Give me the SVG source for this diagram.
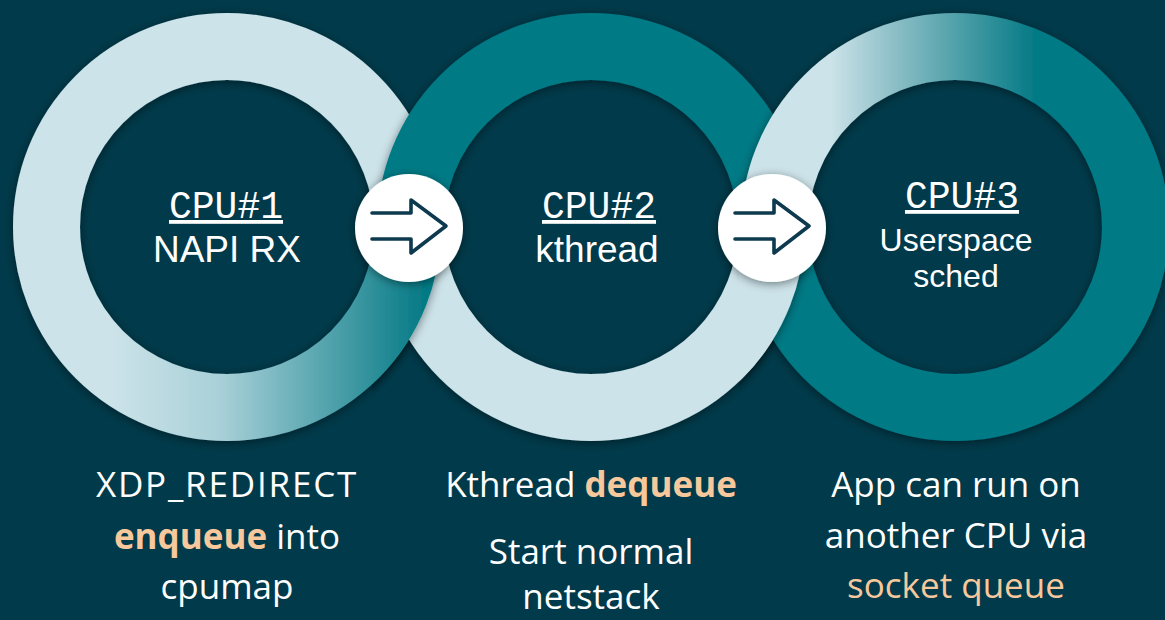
<svg xmlns="http://www.w3.org/2000/svg" width="1165" height="620" viewBox="0 0 1165 620">
  <style>
    .ring { fill: none; stroke-width: 67; }
    .light { stroke: #CCE3E9; }
    .teal { stroke: #047A85; }
    .cpu { font-family: "Liberation Mono", "DejaVu Sans Mono", monospace; font-size: 38px; fill: #FFFFFF; text-anchor: middle; text-decoration: underline; }
    .role { font-family: "Liberation Sans", Arial, sans-serif; font-size: 37px; fill: #FFFFFF; text-anchor: middle; }
    .desc { font-family: "Open Sans", "Noto Sans", sans-serif; font-size: 35px; fill: #FFFFFF; text-anchor: middle; }
    .hl { fill: #F6C89C; }
    .b { font-weight: 700; }
    .btn { fill: #FFFFFF; }
    .icon { fill: none; stroke: #0D3A4E; stroke-width: 3.6; stroke-linecap: round; stroke-linejoin: round; }
  </style>
  <defs>
    <filter id="sh" x="-20%" y="-20%" width="140%" height="140%">
      <feDropShadow dx="0" dy="2" stdDeviation="5" flood-color="#000000" flood-opacity="0.45"/>
    </filter>
    <linearGradient id="g1" gradientUnits="userSpaceOnUse" x1="110" y1="0" x2="425" y2="0">
      <stop offset="0" stop-color="#CCE3E9"/>
      <stop offset="0.35" stop-color="#A9D0D8"/>
      <stop offset="1" stop-color="#047A85"/>
    </linearGradient>
    <linearGradient id="g3" gradientUnits="userSpaceOnUse" x1="830" y1="0" x2="1035" y2="0">
      <stop offset="0" stop-color="#CCE3E9"/>
      <stop offset="0.3" stop-color="#8FC0C8"/>
      <stop offset="1" stop-color="#047A85"/>
    </linearGradient>
    <clipPath id="c1"><rect x="372" y="227" width="100" height="235"/></clipPath>
    <clipPath id="c2"><rect x="739" y="227" width="110" height="235"/></clipPath>
  </defs>

  <rect x="0" y="0" width="1165" height="620" fill="#013A4A"/>

  <g id="cpu1">
    <g filter="url(#sh)">
      <path class="ring light" d="M46.5,227 A180.5,180.5 0 0 1 407.5,227"/>
      <path class="ring" stroke="url(#g1)" d="M46.5,227 A180.5,180.5 0 0 0 407.5,227"/>
    </g>
    <text class="cpu" x="226" y="218">CPU#1</text>
    <text class="role" x="227" y="262">NAPI RX</text>
    <text class="desc" x="227" y="497" style="letter-spacing:1.8px">XDP_REDIRECT</text>
    <text class="desc" x="227" y="549"><tspan class="hl b">enqueue</tspan> into</text>
    <text class="desc" x="227" y="599">cpumap</text>
  </g>

  <g id="cpu2">
    <g filter="url(#sh)">
      <path class="ring teal" d="M410.5,227 A180.5,180.5 0 0 1 771.5,227"/>
      <path class="ring light" d="M410.5,227 A180.5,180.5 0 0 0 771.5,227"/>
    </g>
    <text class="cpu" x="599" y="218">CPU#2</text>
    <text class="role" x="597" y="262">kthread</text>
    <text class="desc" x="591" y="497">Kthread <tspan class="hl b">dequeue</tspan></text>
    <text class="desc" x="591" y="564">Start normal</text>
    <text class="desc" x="591" y="609">netstack</text>
  </g>

  <g id="cpu3">
    <g filter="url(#sh)">
      <path class="ring" stroke="url(#g3)" d="M774.5,227 A180.5,180.5 0 0 1 1135.5,227"/>
      <path class="ring teal" d="M774.5,227 A180.5,180.5 0 0 0 1135.5,227"/>
    </g>
    <text class="cpu" x="962" y="208">CPU#3</text>
    <text class="role" x="956" y="251" style="font-size:32px">Userspace</text>
    <text class="role" x="956" y="287" style="font-size:32px">sched</text>
    <text class="desc" x="956" y="497">App can run on</text>
    <text class="desc" x="956" y="548">another CPU via</text>
    <text class="desc hl" x="956" y="598">socket queue</text>
  </g>

  <g id="interlock">
    <g clip-path="url(#c1)">
      <g filter="url(#sh)">
        <path class="ring" stroke="url(#g1)" d="M46.5,227 A180.5,180.5 0 0 0 407.5,227"/>
      </g>
    </g>
    <g clip-path="url(#c2)">
      <g filter="url(#sh)">
        <path class="ring light" d="M410.5,227 A180.5,180.5 0 0 0 771.5,227"/>
      </g>
    </g>
  </g>

  <g id="connectors">
    <g id="arrow1">
      <circle class="btn" cx="409" cy="228" r="54" filter="url(#sh)"/>
      <path class="icon" d="M372,213 H411 V200 L446,226 L411,253 V239 H372"/>
    </g>
    <g id="arrow2">
      <circle class="btn" cx="772" cy="228" r="54" filter="url(#sh)"/>
      <path class="icon" d="M735,213 H774 V200 L809,226 L774,253 V239 H735"/>
    </g>
  </g>
</svg>
